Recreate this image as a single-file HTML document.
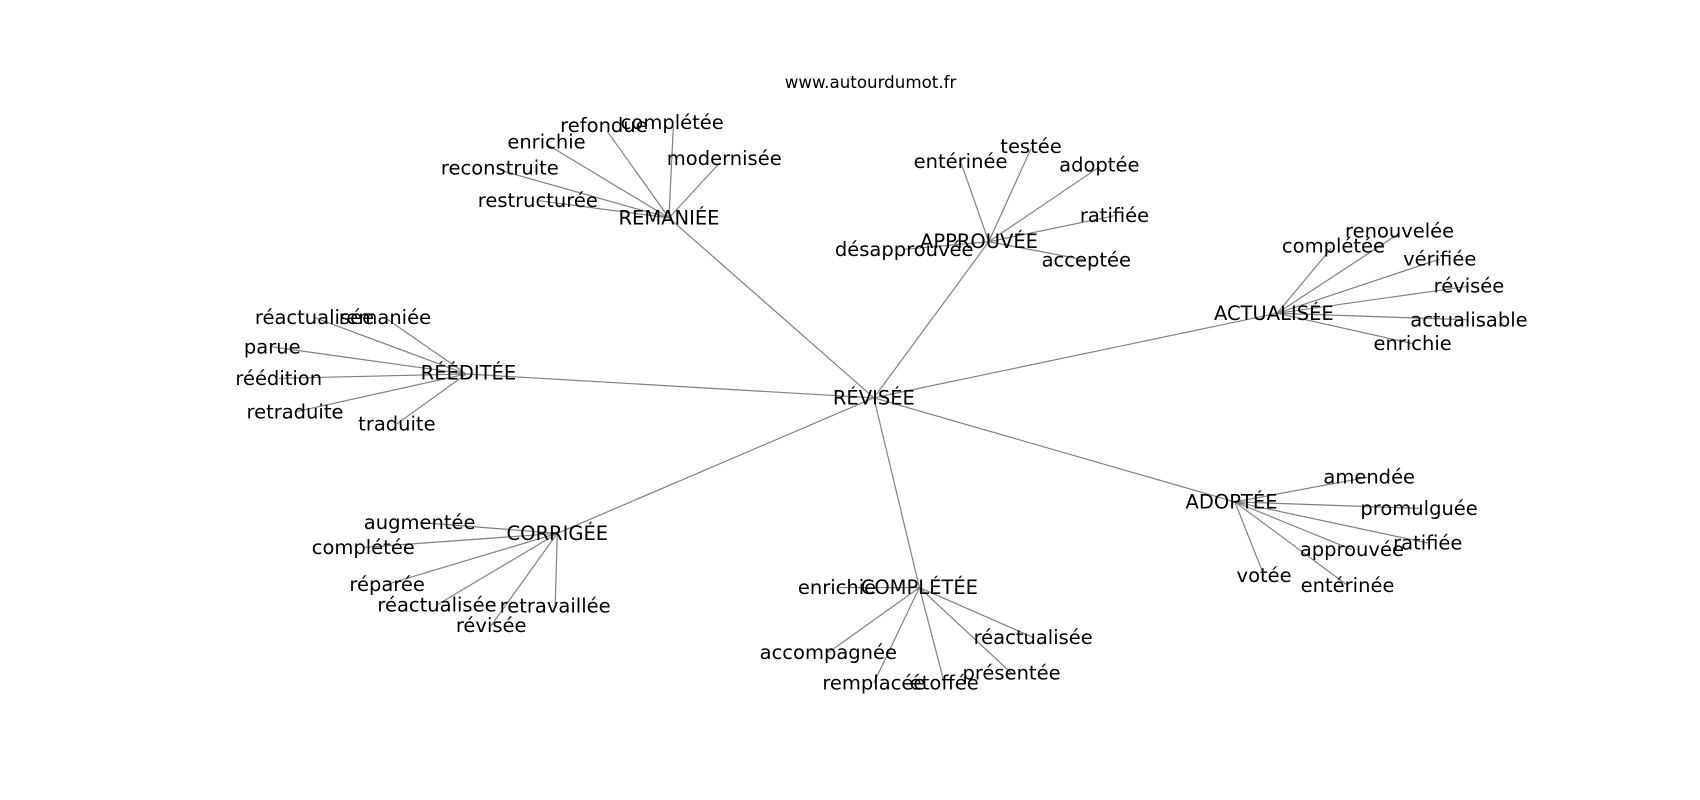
<!DOCTYPE html>
<html><head><meta charset="utf-8"><style>
html,body{margin:0;padding:0;background:#fff;width:1700px;height:800px;overflow:hidden}
svg{display:block}
text{font-family:"DejaVu Sans","Liberation Sans",sans-serif;font-size:18px;fill:#000;text-anchor:middle;dominant-baseline:central}
line{stroke:#808080;stroke-width:1.1}
</style></head><body>
<svg width="1700" height="800" viewBox="0 0 1568 738" xmlns="http://www.w3.org/2000/svg">
<g>
<line x1="806" y1="367" x2="617" y2="201"/>
<line x1="806" y1="367" x2="912" y2="223"/>
<line x1="806" y1="367" x2="1178" y2="289"/>
<line x1="806" y1="367" x2="430" y2="345"/>
<line x1="806" y1="367" x2="1139" y2="463"/>
<line x1="806" y1="367" x2="514" y2="492"/>
<line x1="806" y1="367" x2="848" y2="542"/>
<line x1="617" y1="201" x2="621" y2="117"/>
<line x1="617" y1="201" x2="560" y2="121"/>
<line x1="617" y1="201" x2="504" y2="133"/>
<line x1="617" y1="201" x2="461" y2="157"/>
<line x1="617" y1="201" x2="496" y2="185"/>
<line x1="617" y1="201" x2="664" y2="150"/>
<line x1="912" y1="223" x2="886" y2="149"/>
<line x1="912" y1="223" x2="951" y2="137"/>
<line x1="912" y1="223" x2="1014" y2="154"/>
<line x1="912" y1="223" x2="1028" y2="199"/>
<line x1="912" y1="223" x2="1002" y2="240"/>
<line x1="912" y1="223" x2="834" y2="230"/>
<line x1="1178" y1="289" x2="1228" y2="229"/>
<line x1="1178" y1="289" x2="1291" y2="215"/>
<line x1="1178" y1="289" x2="1328" y2="239"/>
<line x1="1178" y1="289" x2="1355" y2="264"/>
<line x1="1178" y1="289" x2="1355" y2="295"/>
<line x1="1178" y1="289" x2="1303" y2="317"/>
<line x1="430" y1="345" x2="290" y2="293"/>
<line x1="430" y1="345" x2="355" y2="293"/>
<line x1="430" y1="345" x2="251" y2="320"/>
<line x1="430" y1="345" x2="257" y2="349"/>
<line x1="430" y1="345" x2="272" y2="380"/>
<line x1="430" y1="345" x2="366" y2="391"/>
<line x1="1139" y1="463" x2="1263" y2="440"/>
<line x1="1139" y1="463" x2="1309" y2="469"/>
<line x1="1139" y1="463" x2="1317" y2="501"/>
<line x1="1139" y1="463" x2="1247" y2="507"/>
<line x1="1139" y1="463" x2="1166" y2="531"/>
<line x1="1139" y1="463" x2="1243" y2="540"/>
<line x1="514" y1="492" x2="387" y2="482"/>
<line x1="514" y1="492" x2="335" y2="505"/>
<line x1="514" y1="492" x2="357" y2="539"/>
<line x1="514" y1="492" x2="403" y2="558"/>
<line x1="514" y1="492" x2="453" y2="577"/>
<line x1="514" y1="492" x2="512" y2="559"/>
<line x1="848" y1="542" x2="772" y2="542"/>
<line x1="848" y1="542" x2="764" y2="602"/>
<line x1="848" y1="542" x2="806" y2="630"/>
<line x1="848" y1="542" x2="871" y2="630"/>
<line x1="848" y1="542" x2="933" y2="621"/>
<line x1="848" y1="542" x2="953" y2="588"/>
</g>
<text x="803" y="76" style="font-size:15.4px">www.autourdumot.fr</text>
<text x="806" y="367">RÉVISÉE</text>
<text x="617" y="201">REMANIÉE</text>
<text x="903" y="223">APPROUVÉE</text>
<text x="1175" y="289">ACTUALISÉE</text>
<text x="432" y="344">RÉÉDITÉE</text>
<text x="1136" y="463">ADOPTÉE</text>
<text x="514" y="492">CORRIGÉE</text>
<text x="848" y="542">COMPLÉTÉE</text>

<text x="620" y="113">complétée</text>
<text x="557" y="116">refondue</text>
<text x="504" y="131">enrichie</text>
<text x="461" y="155">reconstruite</text>
<text x="496" y="185">restructurée</text>
<text x="668" y="146">modernisée</text>

<text x="886" y="149">entérinée</text>
<text x="951" y="135">testée</text>
<text x="1014" y="152">adoptée</text>
<text x="1028" y="199">ratifiée</text>
<text x="1002" y="240">acceptée</text>
<text x="834" y="230">désapprouvée</text>

<text x="1230" y="227">complétée</text>
<text x="1291" y="213">renouvelée</text>
<text x="1328" y="239">vérifiée</text>
<text x="1355" y="264">révisée</text>
<text x="1355" y="295">actualisable</text>
<text x="1303" y="317">enrichie</text>

<text x="290" y="293">réactualisée</text>
<text x="355" y="293">remaniée</text>
<text x="251" y="320">parue</text>
<text x="257" y="349">réédition</text>
<text x="272" y="380">retraduite</text>
<text x="366" y="391">traduite</text>

<text x="1263" y="440">amendée</text>
<text x="1309" y="469">promulguée</text>
<text x="1317" y="501">ratifiée</text>
<text x="1247" y="507">approuvée</text>
<text x="1166" y="531">votée</text>
<text x="1243" y="540">entérinée</text>

<text x="387" y="482">augmentée</text>
<text x="335" y="505">complétée</text>
<text x="357" y="539">réparée</text>
<text x="403" y="558">réactualisée</text>
<text x="453" y="577">révisée</text>
<text x="512" y="559">retravaillée</text>

<text x="772" y="542">enrichie</text>
<text x="764" y="602">accompagnée</text>
<text x="806" y="630">remplacée</text>
<text x="871" y="630">étoffée</text>
<text x="933" y="621">présentée</text>
<text x="953" y="588">réactualisée</text>
</svg>
</body></html>
